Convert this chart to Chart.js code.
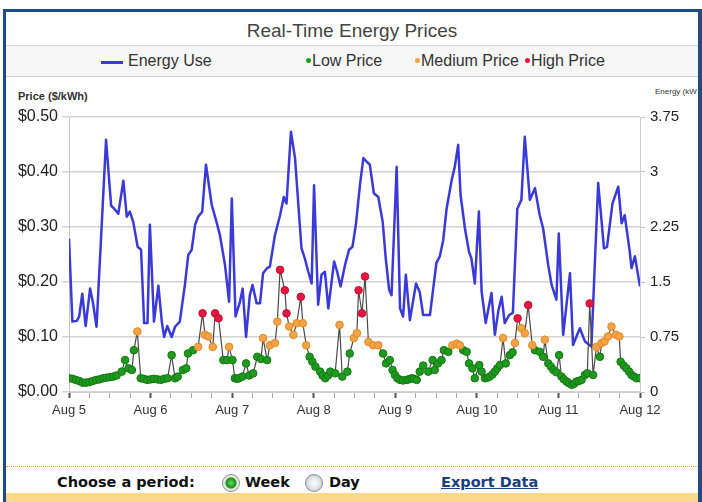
<!DOCTYPE html>
<html><head><meta charset="utf-8">
<script src="https://cdn.jsdelivr.net/npm/chart.js@4.4.1/dist/chart.umd.min.js"></script>
<style>
html,body{margin:0;padding:0;background:#fff;width:702px;height:502px;overflow:hidden;font-family:"Liberation Sans",Arial,sans-serif;}
.abs{position:absolute;}
#fTop{left:3px;top:9px;width:699px;height:3px;background:#1d4b87;}
#fLeft{left:3px;top:9px;width:3px;height:493px;background:#1d4b87;}
#fRight{left:698px;top:9px;width:4px;height:493px;background:#1d4b87;}
#title{left:6px;top:13px;width:692px;height:32px;line-height:35px;text-align:center;font-size:19px;color:#444;border-bottom:1px solid #d6d6d6;}
#legend{left:6px;top:46px;width:692px;height:30px;background:#f6f6f6;border-bottom:1px solid #d0d0d0;}
.lg{position:absolute;top:6px;font-size:16px;color:#333;line-height:18px;white-space:nowrap;}
.dot{display:inline-block;width:5px;height:5px;border-radius:50%;vertical-align:middle;margin-right:1px;position:relative;top:-1px;}
#ptitle{left:18px;top:90px;font-size:11px;font-weight:bold;color:#333;}
#etitle{left:655px;top:87px;width:42px;overflow:hidden;white-space:nowrap;font-size:8px;color:#333;}
#chartBox{left:0;top:80px;width:702px;height:380px;}
#dots{left:6px;top:466px;width:692px;height:0;border-top:1px dotted #efa52e;}
.ctl{position:absolute;top:474px;font-family:"DejaVu Sans",Verdana,sans-serif;font-weight:bold;font-size:14.5px;color:#111;line-height:17px;}
.radio{position:absolute;top:474px;width:18px;height:18px;border-radius:50%;box-sizing:border-box;border:1px solid #8c8c8c;}
#band{left:6px;top:493px;width:692px;height:9px;background:#fdd88a;}
</style></head>
<body>
<div class="abs" id="fTop"></div><div class="abs" id="fLeft"></div><div class="abs" id="fRight"></div>
<div class="abs" id="title">Real-Time Energy Prices</div>
<div class="abs" id="legend">
  <div class="abs" style="left:95px;top:15px;width:22px;height:3px;background:#3a3ad8;"></div>
  <div class="lg" style="left:122px;">Energy Use</div>
  <div class="lg" style="left:300px;"><span class="dot" style="background:#1e9b1e"></span>Low Price</div>
  <div class="lg" style="left:409px;"><span class="dot" style="background:#f5a445"></span>Medium Price</div>
  <div class="lg" style="left:519px;"><span class="dot" style="background:#e5173f"></span>High Price</div>
</div>
<div class="abs" id="ptitle">Price ($/kWh)</div>
<div class="abs" id="etitle">Energy (kWh)</div>
<div class="abs" id="chartBox"><canvas id="c" width="702" height="380"></canvas></div>
<div class="abs" id="dots"></div>
<div class="ctl" style="left:57px;">Choose a period:</div>
<div class="radio" style="left:222px;background:radial-gradient(circle,#6ad86a 0,#1f9f1f 4px,#2a8a2a 5px,#cfe3cf 6px,#f2f2f2 8px);"></div>
<div class="ctl" style="left:245px;">Week</div>
<div class="radio" style="left:305px;background:radial-gradient(circle,#ffffff 0,#e4e8ec 5px,#d0d4d8 8px);"></div>
<div class="ctl" style="left:329px;">Day</div>
<div class="ctl" style="left:441px;color:#1a3f7f;text-decoration:underline;">Export Data</div>
<div class="abs" id="band"></div>
<script>
// X axis: hours since Aug 5 00:00
const dayLabels = ["Aug 5","Aug 6","Aug 7","Aug 8","Aug 9","Aug 10","Aug 11","Aug 12"];
const priceTicks = [0, 0.1, 0.2, 0.3, 0.4, 0.5];
const energyTicks = [0, 0.75, 1.5, 2.25, 3, 3.75];

// Energy use (kWh), right axis
const energyHours = [0,1,2.3,3,3.9,4.9,6.2,7,8.1,10.9,12.4,13.3,14.5,16,17,17.9,18.9,20.2,21.2,22.1,23.1,23.8,25,26.3,27.3,28,28.9,30.2,31.2,32.6,34.1,35.1,36.1,37.1,38,39.2,40.3,42,43.4,44.4,45.9,47.1,47.9,49,50.3,51.1,52.1,53.2,54,55.2,56.2,57.1,58.3,59.1,60.6,62.1,63.2,64,65.3,66.5,67.7,68.4,69.4,70.4,71.4,72.1,73.3,74.3,75.3,76.3,78,78.9,79.9,81.2,82.4,83.4,84.4,85.6,86.6,87.6,88.5,89.7,91,92.3,93.2,94.2,94.9,96.4,97.4,98.3,99.1,100.3,102.1,103.2,104.2,106.2,108.1,109.1,110.1,111.1,112.6,113.5,114.5,115.2,116.5,117.7,118.4,119.4,120.6,121.4,122.6,124.3,125.3,126.3,127.3,128.2,129.5,130.6,131.9,133.1,134.1,135.6,137.1,138.5,139.5,141,142,143.4,144.1,145.4,147.4,148.3,150.3,151.8,153.7,155.7,157.4,158.3,159.9,161.6,162.6,163.5,165,165.5,166.5,168];
const energyKwh = [2.09,0.96,0.97,1.03,1.34,0.9,1.41,1.23,0.89,3.44,2.54,2.5,2.43,2.88,2.39,2.46,2.32,1.98,1.94,0.94,0.94,2.28,0.96,1.45,0.96,0.75,0.9,0.75,0.89,0.96,1.46,1.87,1.94,2.28,2.39,2.46,3.1,2.55,2.32,2.14,1.73,1.23,2.64,1.03,1.23,1.41,0.75,1.32,1.46,1.21,1.21,1.62,1.69,1.71,2.14,2.41,2.66,2.57,3.55,3.19,2.41,1.96,1.82,1.64,1.48,2.82,1.19,1.6,1.64,1.14,1.78,1.64,1.44,1.73,1.94,1.98,2.28,2.82,3.19,3.14,3.1,2.71,2.66,2.32,1.82,1.39,1.32,3.07,1.14,1.03,1.6,0.98,1.48,1.36,1.05,1.05,1.76,1.85,2.07,2.5,2.89,3.07,3.37,2.69,2.23,1.91,1.82,1.48,2.46,1.37,0.94,1.35,0.78,1.1,1.3,0.94,1.05,1.08,2.5,2.62,3.48,2.62,2.78,2.41,2.23,1.73,1.46,1.26,2.16,0.78,1.62,0.64,0.87,0.69,0.62,2.85,1.96,1.98,2.57,2.8,2.3,2.41,1.91,1.69,1.85,1.44];

// Price ($/kWh), left axis
const priceHours = [0,1,2,3,4,5,6,7,8,9,10,11,12,13,14,15.5,16.5,17.5,18.5,19.1,20.1,21.1,22,23,24,25,26,27,28,29,30.2,31.2,32,33.5,34.5,35,36.5,38,39.3,40,41,42.3,43,44,45.4,46.5,47.1,48.1,48.8,49.5,50,51,52.1,53,54.2,55.4,56.5,57.1,58.3,59.1,60.6,61.3,62.1,63.5,64,64.8,66,67,68.2,68.8,69.8,70.8,71.6,72.5,73.9,74.6,75.4,76.2,76.9,78.3,79.6,80.4,81.9,82.6,83.8,84.7,85.2,86.2,87.1,88.1,89.5,91,92.4,93.3,94.4,95.2,95.9,96.6,97.4,98.3,99.3,100,100.8,101.5,102.3,103.2,104.2,105.7,107,107.6,108.6,109.6,110.3,111.6,112.8,114.1,115,116,117,117.7,118.7,119.4,120.7,121.4,122.4,123.1,123.8,124.6,125.3,126,126.8,127.7,128.5,129.7,130.5,131.2,132,133.1,134.1,135.1,136.3,137.1,138.5,139.5,140,141,141.8,142.5,143.4,144.2,144.9,145.6,146.4,147.1,147.9,148.6,149.3,150,150.8,151.8,152.5,153.2,154.2,155.2,156.2,156.7,157.6,158.6,159.6,160.9,161.9,162.3,163.2,164,164.8,165.5,166.2,167,168];
const priceValues = [0.025,0.024,0.022,0.020,0.017,0.017,0.018,0.020,0.022,0.023,0.025,0.026,0.027,0.028,0.030,0.037,0.058,0.043,0.040,0.076,0.110,0.025,0.024,0.022,0.023,0.024,0.023,0.022,0.024,0.025,0.067,0.025,0.028,0.040,0.043,0.070,0.076,0.082,0.143,0.104,0.101,0.082,0.143,0.134,0.058,0.058,0.082,0.058,0.025,0.024,0.025,0.028,0.052,0.030,0.034,0.064,0.060,0.098,0.058,0.085,0.089,0.128,0.222,0.185,0.143,0.119,0.104,0.125,0.173,0.125,0.085,0.064,0.055,0.046,0.037,0.030,0.025,0.030,0.037,0.034,0.122,0.028,0.037,0.070,0.098,0.107,0.185,0.143,0.210,0.091,0.085,0.085,0.070,0.052,0.058,0.040,0.031,0.025,0.022,0.021,0.022,0.023,0.025,0.024,0.022,0.037,0.048,0.037,0.058,0.040,0.052,0.058,0.076,0.073,0.085,0.088,0.085,0.076,0.073,0.052,0.043,0.025,0.049,0.037,0.025,0.026,0.028,0.032,0.037,0.043,0.049,0.098,0.052,0.067,0.072,0.089,0.134,0.116,0.107,0.158,0.085,0.076,0.073,0.064,0.095,0.052,0.046,0.040,0.036,0.067,0.028,0.023,0.019,0.016,0.013,0.015,0.019,0.020,0.022,0.031,0.034,0.161,0.031,0.082,0.064,0.089,0.092,0.101,0.119,0.104,0.101,0.055,0.048,0.043,0.037,0.031,0.028,0.025,0.025];

// price tier limits ($/kWh)
const lowLimit = 0.08, highLimit = 0.13;

const energyPts = energyHours.map((h, i) => ({x: h, y: energyKwh[i]}));
const pricePts = priceHours.map((h, i) => ({x: h, y: priceValues[i]}));
const lowPts = pricePts.filter(p => p.y < lowLimit);
const medPts = pricePts.filter(p => p.y >= lowLimit && p.y < highLimit);
const highPts = pricePts.filter(p => p.y >= highLimit);

const tickFont = {family: "'Liberation Sans', Arial, sans-serif"};

new Chart(document.getElementById('c'), {
  type: 'line',
  data: {
    datasets: [
      {label: 'High Price', data: highPts, showLine: false, yAxisID: 'y', order: 0,
       pointRadius: 3.8, pointBackgroundColor: '#e5173f', pointBorderColor: '#c01030', pointBorderWidth: 1},
      {label: 'Medium Price', data: medPts, showLine: false, yAxisID: 'y', order: 0,
       pointRadius: 3.8, pointBackgroundColor: '#f5a445', pointBorderColor: '#e08a2a', pointBorderWidth: 1},
      {label: 'Low Price', data: lowPts, showLine: false, yAxisID: 'y', order: 0,
       pointRadius: 3.8, pointBackgroundColor: '#1e9b1e', pointBorderColor: '#137813', pointBorderWidth: 1},
      {label: 'Price', data: pricePts, yAxisID: 'y', order: 1, borderColor: '#4a4a4a', borderWidth: 1.2,
       pointRadius: 0, tension: 0},
      {label: 'Energy Use', data: energyPts, yAxisID: 'y2', order: 2, borderColor: '#3a3ad8', borderWidth: 2.5,
       pointRadius: 0, tension: 0, borderJoinStyle: 'round'}
    ]
  },
  options: {
    responsive: false,
    animation: false,
    layout: {padding: {left: 0, right: 0, top: 37, bottom: 0}},
    plugins: {legend: {display: false}, title: {display: false}, tooltip: {enabled: false}},
    scales: {
      x: {
        type: 'linear', min: 0, max: 168, position: 'bottom',
        ticks: {stepSize: 6, autoSkip: false, maxRotation: 0, padding: 5, color: '#333',
                font: Object.assign({size: 13}, tickFont),
                callback: v => (v % 24 === 0 ? dayLabels[v / 24] : '')},
        grid: {drawOnChartArea: false, drawTicks: true, tickLength: 6,
               tickColor: c => (c.tick && c.tick.value % 24 === 0 ? '#555' : '#aaa'),
               tickWidth: c => (c.tick && c.tick.value % 24 === 0 ? 2 : 1)},
        border: {display: true, color: '#cfcfcf'},
        afterFit: s => { s.height = 68; }
      },
      y: {
        position: 'left', min: 0, max: 0.5,
        afterBuildTicks: s => { s.ticks = priceTicks.map(v => ({value: v})); },
        ticks: {padding: 4, color: '#222', font: Object.assign({size: 16}, tickFont),
                callback: v => '$' + Number(v).toFixed(2)},
        grid: {color: '#d4d4d4', lineWidth: 1.5, tickLength: 7},
        border: {display: true, color: '#c4c4c4'},
        afterFit: s => { s.width = 69; }
      },
      y2: {
        position: 'right', min: 0, max: 3.75,
        afterBuildTicks: s => { s.ticks = energyTicks.map(v => ({value: v})); },
        ticks: {padding: 5, color: '#222', font: Object.assign({size: 15}, tickFont),
                callback: v => String(v)},
        grid: {drawOnChartArea: false, tickLength: 5, color: '#c4c4c4'},
        border: {display: true, color: '#cfcfcf'},
        afterFit: s => { s.width = 62; }
      }
    }
  }
});
</script>
</body></html>
